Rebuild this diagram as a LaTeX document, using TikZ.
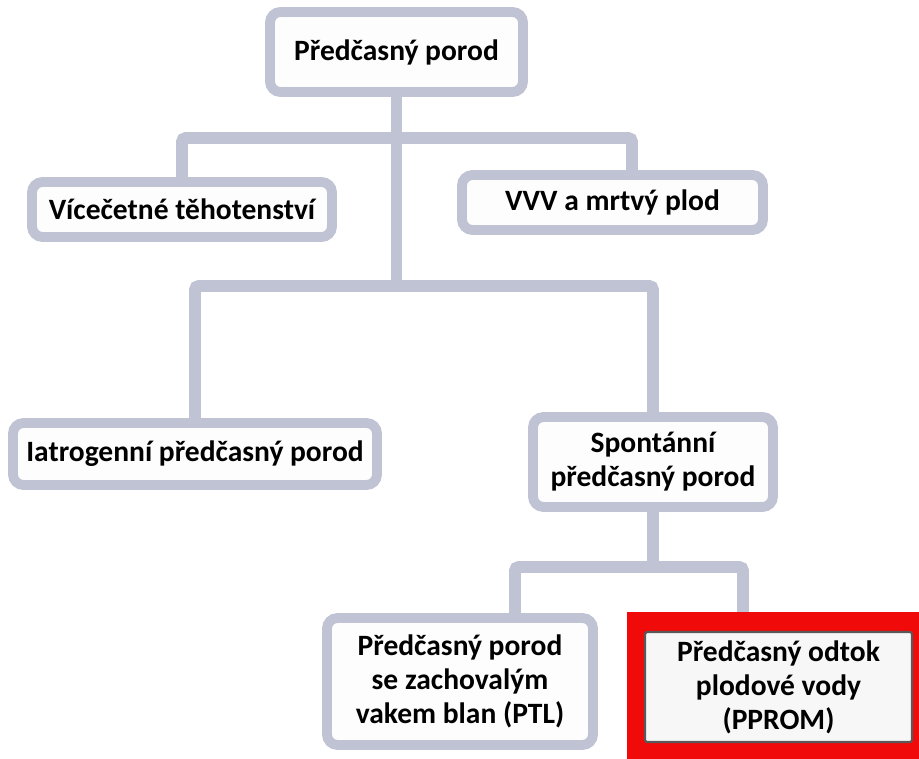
\documentclass[tikz,border=0pt]{standalone}
\usepackage{fontspec}
\setmainfont{Carlito}
\usetikzlibrary{calc}
\definecolor{linkgray}{RGB}{191,195,211}
\definecolor{boxfill}{RGB}{253,253,253}
\definecolor{framered}{RGB}{240,10,10}

\tikzset{
  box/.style = {draw = linkgray, fill = boxfill, line width = 5.6pt, rounded corners = 6pt,
    align = center, inner sep = 0pt, font = \bfseries\fontsize{16.8}{19.4}\selectfont},
  pbox/.style = {draw = black!65, fill = black!3, line width = 1.2pt, rounded corners = 1pt,
    align = center, inner sep = 0pt, font = \bfseries\fontsize{16.8}{19.4}\selectfont},
  link/.style = {draw = linkgray, line width = 6.6pt, rounded corners = 2pt}
}

\begin{document}
\begin{tikzpicture}
    \useasboundingbox (0,0) rectangle (18.38,-15.18);
    % boxes
    \node[box, minimum width = 5.06cm, minimum height = 1.6cm] (root) at (7.93,-1.04) {Předčasný porod};
    \node[box, minimum width = 6.0cm, minimum height = 1.1cm] (multi) at (3.64,-4.19) {Vícečetné těhotenství};
    \node[box, minimum width = 6.02cm, minimum height = 1.1cm] (vvv) at (12.25,-4.05) {VVV a mrtvý plod};
    \node[box, minimum width = 7.28cm, minimum height = 1.24cm] (iatro) at (3.9,-9.08) {Iatrogenní předčasný porod};
    \node[box, minimum width = 4.8cm, minimum height = 1.8cm] (spont) at (13.06,-9.24) {Spontánní\\předčasný porod};
    \node[box, minimum width = 5.32cm, minimum height = 2.54cm] (ptl) at (9.2,-13.63) {Předčasný porod\\se zachovalým\\vakem blan (PTL)};
    % connectors
    \coordinate (bar1) at (0,-2.76);
    \coordinate (bar2) at (0,-5.72);
    \coordinate (bar3) at (0,-11.34);
    \coordinate (pdrop) at (14.86,-12.5);
    \draw[link] (root.south) -- (root.south |- bar2);
    \draw[link] (multi.north) |- (root.south |- bar1) -| ($(vvv.north)+(0.39,0)$);
    \draw[link] (iatro.north) |- (root.south |- bar2) -| (spont.north);
    \draw[link] (spont.south) -- (spont.south |- bar3);
    \draw[link] ($(ptl.north)+(1.1,0)$) |- (spont.south |- bar3) -| (pdrop);
    % red frame round PPROM
    \coordinate (frame) at (12.54,-12.24);
    \begin{scope}
        \clip (0,0) rectangle (18.38,-15.18);
        \fill[framered] (frame) rectangle ++(7,-4);
    \end{scope}
    \node[pbox, minimum width = 5.34cm, minimum height = 2.2cm] (pprom) at (15.57,-13.74) {Předčasný odtok\\plodové vody\\(PPROM)};
\end{tikzpicture}
\end{document}
